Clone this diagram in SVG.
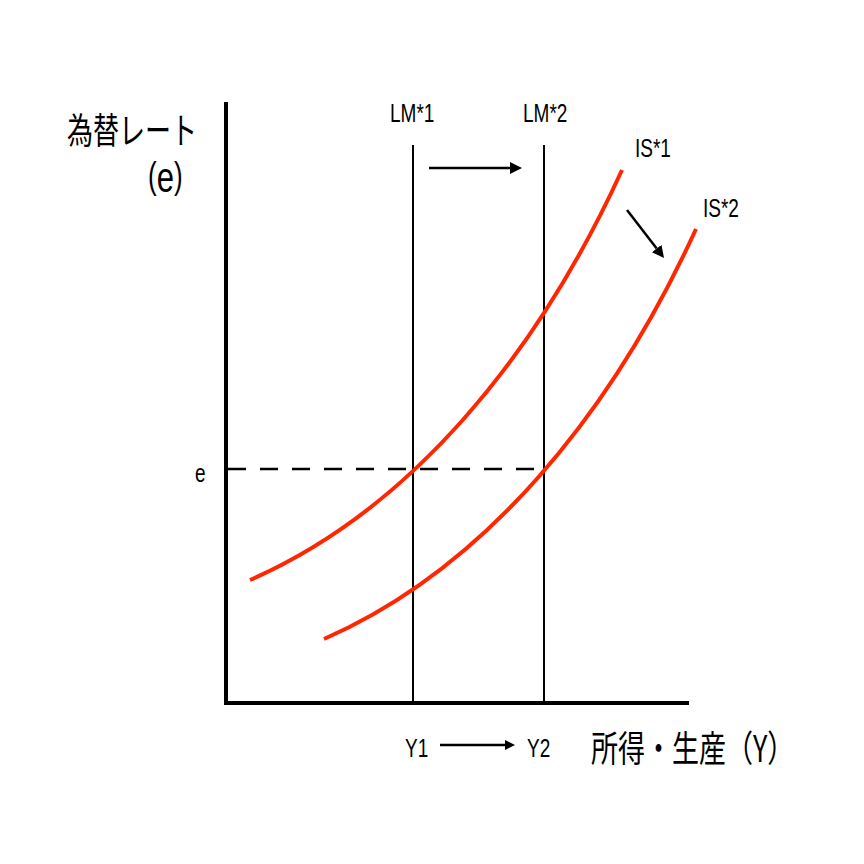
<svg xmlns="http://www.w3.org/2000/svg" width="864" height="864" viewBox="0 0 864 864">
  <style>
    .lat { font-family: "Liberation Sans", Arial, sans-serif; font-size: 19px; fill: #000; }
    .jp { font-family: "Noto Sans CJK JP", "Noto Sans CJK SC", sans-serif; fill: #000; }
    .axis { stroke: #000; stroke-width: 4; fill: none; }
    .lm { stroke: #000; stroke-width: 2; fill: none; }
    .is { stroke: #ff2600; stroke-width: 4; fill: none; stroke-linecap: butt; }
    .arr { stroke: #000; stroke-width: 2.5; fill: none; }
    .dash { stroke: #000; stroke-width: 2.5; stroke-dasharray: 18 14; fill: none; }
  </style>
  <defs>
    <marker id="head" markerUnits="userSpaceOnUse" markerWidth="13" markerHeight="13" refX="0" refY="6" orient="auto">
      <path d="M0,0 L12,6 L0,12 z" fill="#000"/>
    </marker>
    <marker id="headS" markerUnits="userSpaceOnUse" markerWidth="11" markerHeight="11" refX="0" refY="5" orient="auto">
      <path d="M0,0 L10,5 L0,10 z" fill="#000"/>
    </marker>
  </defs>
  <rect width="864" height="864" fill="#fff"/>

  <g id="axes">
    <line class="axis" x1="226" y1="102" x2="226" y2="705"/>
    <line class="axis" x1="224" y1="703" x2="689" y2="703"/>
  </g>

  <g id="connectors">
    <line class="dash" x1="228" y1="469" x2="544" y2="469"/>
    <line class="arr" x1="429" y1="168" x2="510" y2="168" marker-end="url(#head)"/>
    <line class="arr" x1="440" y1="745" x2="505" y2="745" marker-end="url(#headS)"/>
    <line class="arr" x1="627" y1="210" x2="656.7" y2="248.5" marker-end="url(#head)"/>
  </g>

  <g id="LM1">
    <line class="lm" x1="413" y1="145" x2="413" y2="703"/>
    <text class="lat" transform="translate(390,122) scale(1,1.4)">LM*1</text>
  </g>
  <g id="LM2">
    <line class="lm" x1="544" y1="145" x2="544" y2="703"/>
    <text class="lat" transform="translate(523,122) scale(1,1.4)">LM*2</text>
  </g>

  <g id="IS1">
    <path class="is" d="M250,580 C410,510 537,356 622,170"/>
    <text class="lat" transform="translate(635,157) scale(1,1.4)">IS*1</text>
  </g>
  <g id="IS2">
    <path class="is" d="M324,639 C484,569 611,415 696,229"/>
    <text class="lat" transform="translate(703,217) scale(1,1.4)">IS*2</text>
  </g>

  <g id="yaxis-label">
    <text class="jp" font-size="26" transform="translate(67,144) scale(1,1.4)">為替レート</text>
    <text class="lat" transform="translate(148,192) scale(1,1.4)"><tspan font-size="26" dy="-3">(</tspan><tspan font-size="31" dy="3">e</tspan><tspan font-size="26" dy="-3">)</tspan></text>
  </g>

  <g id="e-label">
    <text class="lat" transform="translate(195,482) scale(1,1.4)">e</text>
  </g>

  <g id="Y-labels">
    <text class="lat" transform="translate(405,757) scale(1,1.4)">Y1</text>
    <text class="lat" transform="translate(527,757) scale(1,1.4)">Y2</text>
  </g>

  <g id="xaxis-label">
    <text class="jp" font-size="27" transform="translate(591,762) scale(1,1.35)">所得・生産（Y）</text>
  </g>
</svg>
